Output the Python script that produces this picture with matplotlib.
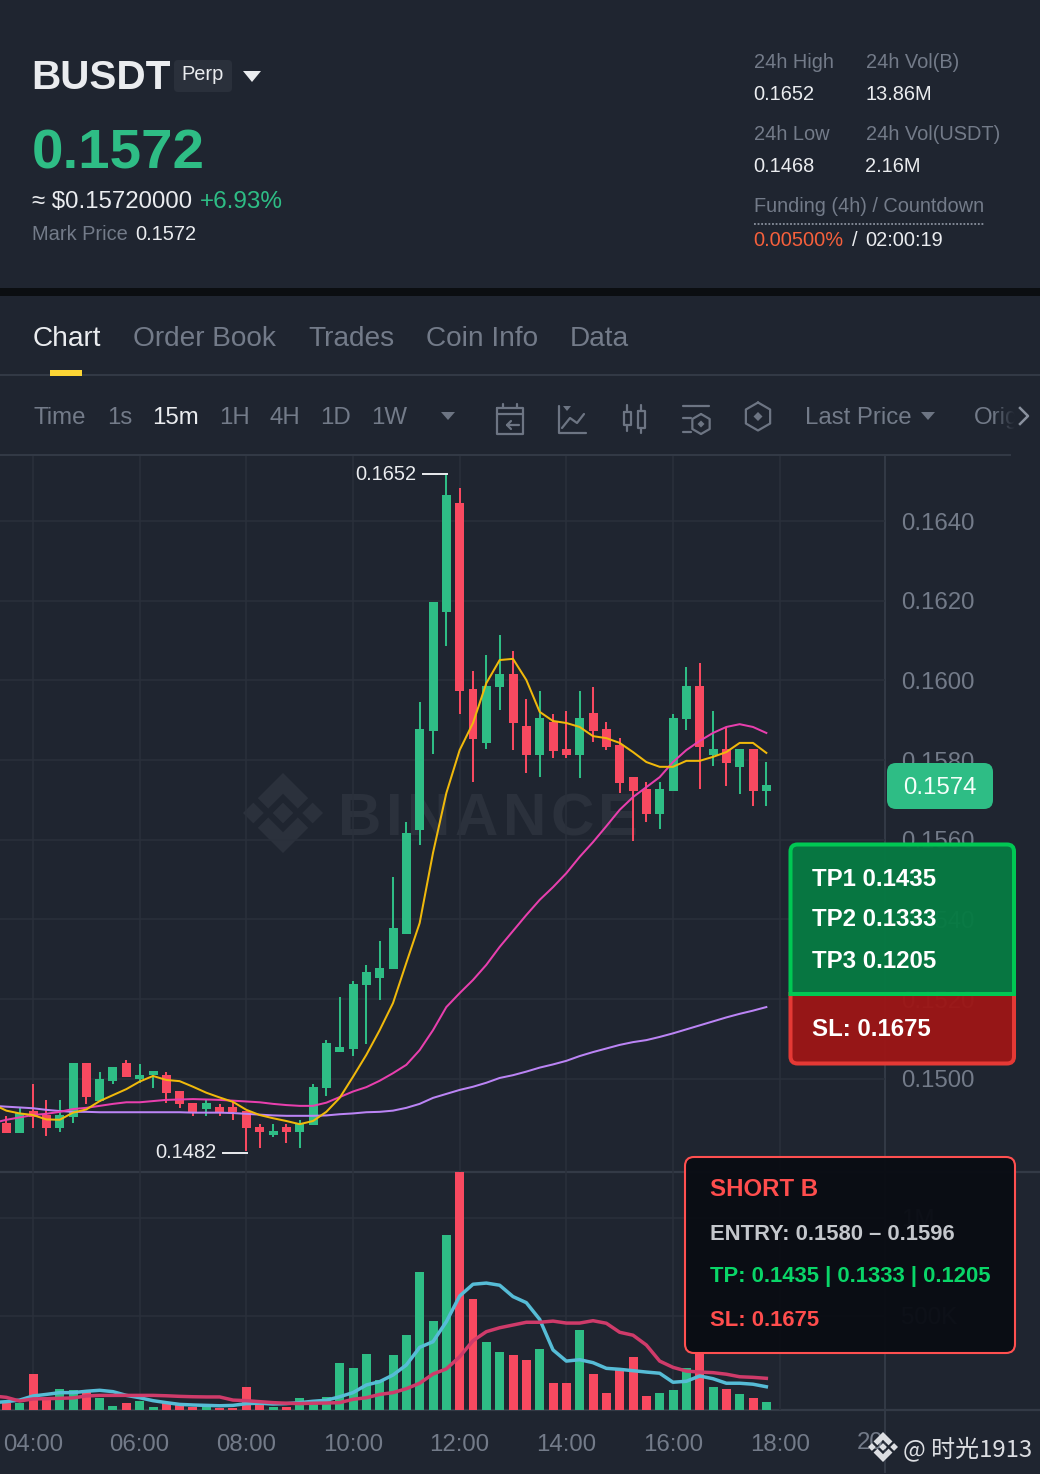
import numpy as np
import matplotlib
matplotlib.use("Agg")
import matplotlib.pyplot as plt
from matplotlib.patches import FancyBboxPatch, PathPatch, Polygon, Rectangle
from matplotlib.path import Path

W, H = 1040, 1474
BG = "#1f2530"
GREEN = "#2ebd85"
RED = "#f84960"
GRID = "#2a303b"
SEP = "#333a46"
GRAY = "#737b89"
LIGHT = "#eaecef"
plt.rcParams["font.family"] = ["Liberation Sans", "DejaVu Sans"]

# ---------- data ----------
candle_index = list(range(-2, 56))
line_index = list(range(-3, 56))
opens = [0.14890,0.14865,0.14919,0.14909,0.14876,0.14905,0.15039,0.14945,0.14995,0.15039,
         0.14999,0.15009,0.15009,0.14969,0.14938,0.14924,0.14930,0.14930,0.14920,0.14880,
         0.14859,0.14880,0.14866,0.14885,0.14976,0.15068,0.15075,0.15235,0.15254,0.15275,
         0.15364,0.15624,0.15873,0.16172,0.16445,0.15978,0.15843,0.15983,0.16016,0.15885,
         0.15813,0.15896,0.15828,0.15813,0.15917,0.15877,0.15838,0.15757,0.15727,0.15664,
         0.15723,0.15903,0.15987,0.15813,0.15827,0.15783,0.15827,0.15723]
closes = [0.14865,0.14915,0.14905,0.14876,0.14909,0.15039,0.14955,0.14999,0.15029,0.15005,
          0.15009,0.15019,0.14965,0.14936,0.14917,0.14938,0.14916,0.14916,0.14876,0.14866,
          0.14870,0.14866,0.14886,0.14980,0.15089,0.15079,0.15238,0.15269,0.15279,0.15378,
          0.15618,0.15878,0.16197,0.16465,0.15973,0.15853,0.15986,0.16016,0.15893,0.15813,
          0.15906,0.15823,0.15813,0.15906,0.15873,0.15833,0.15743,0.15723,0.15664,0.15727,
          0.15906,0.15987,0.15833,0.15827,0.15793,0.15827,0.15723,0.15737]
highs = [0.14907,0.14927,0.14987,0.14947,0.14947,0.15039,0.15039,0.15017,0.15029,0.15047,
         0.15037,0.15019,0.15016,0.14969,0.14938,0.14947,0.14937,0.14942,0.14920,0.14886,
         0.14886,0.14886,0.14897,0.14987,0.15097,0.15206,0.15245,0.15286,0.15345,0.15506,
         0.15644,0.15946,0.16197,0.16520,0.16483,0.16023,0.16064,0.16114,0.16074,0.15953,
         0.15973,0.15916,0.15924,0.15974,0.15984,0.15895,0.15855,0.15757,0.15744,0.15744,
         0.15915,0.16034,0.16043,0.15924,0.15882,0.15827,0.15827,0.15794]
lows = [0.14865,0.14865,0.14877,0.14857,0.14867,0.14889,0.14937,0.14942,0.14987,0.15005,
        0.14989,0.14978,0.14939,0.14927,0.14907,0.14907,0.14907,0.14897,0.14819,0.14827,
        0.14855,0.14839,0.14827,0.14885,0.14958,0.15066,0.15057,0.15087,0.15197,0.15275,
        0.15364,0.15587,0.15815,0.16086,0.15916,0.15745,0.15828,0.15926,0.15825,0.15767,
        0.15757,0.15806,0.15806,0.15756,0.15846,0.15825,0.15717,0.15597,0.15645,0.15626,
        0.15723,0.15875,0.15727,0.15786,0.15736,0.15715,0.15685,0.15685]
ma_yellow = [0.14936,0.14920,0.14913,0.14909,0.14898,0.14897,0.14915,0.14923,0.14944,0.14959,0.14974,
             0.14993,0.15007,0.14997,0.14994,0.14980,0.14965,0.14953,0.14942,0.14922,0.14909,
             0.14901,0.14894,0.14886,0.14894,0.14917,0.14952,0.15005,0.15060,0.15122,0.15190,
             0.15291,0.15391,0.15567,0.15717,0.15825,0.15893,0.15993,0.16051,0.16054,0.16001,
             0.15921,0.15898,0.15893,0.15883,0.15860,0.15855,0.15843,0.15820,0.15795,0.15783,
             0.15783,0.15798,0.15798,0.15808,0.15820,0.15843,0.15843,0.15818]
ma_pink = [0.14889,0.14897,0.14903,0.14909,0.14912,0.14917,0.14924,0.14927,0.14932,0.14937,0.14941,
           0.14941,0.14944,0.14947,0.14948,0.14949,0.14948,0.14947,0.14945,0.14943,0.14941,
           0.14937,0.14934,0.14932,0.14932,0.14940,0.14954,0.14968,0.14979,0.14995,0.15014,
           0.15035,0.15072,0.15122,0.15180,0.15215,0.15248,0.15286,0.15331,0.15371,0.15411,
           0.15449,0.15481,0.15516,0.15557,0.15594,0.15634,0.15675,0.15707,0.15732,0.15757,
           0.15795,0.15825,0.15848,0.15868,0.15883,0.15890,0.15883,0.15868]
ma_purple = [0.14932,0.14930,0.14928,0.14926,0.14922,0.14919,0.14917,0.14917,0.14916,0.14916,0.14916,
             0.14916,0.14916,0.14916,0.14916,0.14915,0.14915,0.14915,0.14914,0.14912,0.14910,
             0.14908,0.14907,0.14907,0.14907,0.14908,0.14911,0.14913,0.14916,0.14917,0.14920,
             0.14927,0.14937,0.14952,0.14962,0.14972,0.14980,0.14990,0.15002,0.15009,0.15018,
             0.15028,0.15036,0.15045,0.15057,0.15067,0.15076,0.15085,0.15092,0.15097,0.15105,
             0.15114,0.15124,0.15134,0.15144,0.15154,0.15163,0.15171,0.15180]
volumes = [55,55,203,71,126,121,114,80,42,58,66,36,55,46,37,34,32,32,136,46,36,36,83,68,87,259,
           233,306,173,299,403,723,476,913,1235,587,367,316,301,276,332,157,157,429,204,109,224,
           291,92,106,122,233,318,136,129,101,82,60]
vol_ma_blue = [58,63,71,92,100,109,109,116,121,114,95,83,68,58,49,46,44,42,44,53,55,51,53,58,65,70,
               88,109,148,165,199,250,340,369,471,602,662,668,657,599,568,483,327,270,277,262,
               233,228,221,214,208,162,167,194,180,157,157,152,139]
vol_ma_red = [92,85,66,77,78,80,82,92,95,95,95,95,95,93,90,88,87,87,71,68,63,58,55,53,55,56,58,75,
              83,100,109,129,157,204,230,292,374,420,440,454,468,468,474,464,464,476,463,417,
              402,352,270,238,219,214,211,203,190,187,182]
price_ticks = [0.1500, 0.1520, 0.1540, 0.1560, 0.1580, 0.1600, 0.1620, 0.1640]
time_ticks = [0, 8, 16, 24, 32, 40, 48, 56]
time_labels = ["04:00", "06:00", "08:00", "10:00", "12:00", "14:00", "16:00", "18:00"]
vol_ticks = [500, 1000]
vol_labels = ["500K", "1M"]
brand_letters = list("BINANCE")
brand_advances = [0.722, 0.278, 0.722, 0.722, 0.722, 0.722, 0.667]

# ---------- layout ----------
PX = 40 / 3        # pixels per candle
X0 = 33            # pixel of index 0
xlim = (-X0 / PX, (885 - X0) / PX)
fig = plt.figure(figsize=(W / 100, H / 100), dpi=100, facecolor=BG)
def px(s): return s * 0.72
def rect_axes(x0, y0, x1, y1, z):
    return fig.add_axes([x0 / W, 1 - y1 / H, (x1 - x0) / W, (y1 - y0) / H], zorder=z)

under = fig.add_axes([0, 0, 1, 1], zorder=0); under.set_xlim(0, W); under.set_ylim(H, 0); under.axis("off")
over = fig.add_axes([0, 0, 1, 1], zorder=10); over.set_xlim(0, W); over.set_ylim(H, 0); over.axis("off")
over.patch.set_alpha(0)

def T(a, x, y, s, size, color=LIGHT, weight="normal", ha="left", va="baseline", **k):
    return a.text(x, y, s, fontsize=px(size), color=color, fontweight=weight, ha=ha, va=va, **k)

# ---------- price pane ----------
ax = rect_axes(0, 456, 885, 1172, 2)
ax.patch.set_alpha(0)
ax.set_xlim(*xlim)
ax.set_ylim(0.16400 - (1172 - 521) * 0.0000251, 0.16400 + (521 - 456) * 0.0000251)
for s in ax.spines.values(): s.set_visible(False)
ax.yaxis.tick_right()
ax.set_yticks(price_ticks); ax.set_yticklabels([f"{v:.4f}" for v in price_ticks])
ax.set_xticks(time_ticks); ax.set_xticklabels([])
ax.tick_params(axis="both", length=0)
ax.tick_params(axis="y", pad=11.5, labelsize=px(24), labelcolor=GRAY)
ax.grid(True, color=GRID, lw=1.1); ax.set_axisbelow(True)
for i, o, c, h, l in zip(candle_index, opens, closes, highs, lows):
    col = GREEN if c >= o else RED
    ax.vlines(i, l, h, color=col, lw=1.45, zorder=3)
    ax.bar(i, abs(c - o), bottom=min(o, c), width=0.675, color=col, zorder=3, lw=0)
ax.plot(line_index, ma_purple, color="#bb84f5", lw=1.45, zorder=4)
ax.plot(line_index, ma_pink, color="#e83fae", lw=1.45, zorder=4)
ax.plot(line_index, ma_yellow, color="#f0b90b", lw=1.45, zorder=4)

# ---------- volume pane ----------
av = rect_axes(0, 1172, 885, 1409.5, 2)
av.patch.set_alpha(0)
av.set_xlim(*xlim)
av.set_ylim((1414 - 1409.5) * 5.102, (1414 - 1172) * 5.102)
for s in av.spines.values(): s.set_visible(False)
av.yaxis.tick_right()
av.set_yticks(vol_ticks); av.set_yticklabels(vol_labels)
av.set_xticks(time_ticks); av.set_xticklabels(time_labels)
av.tick_params(axis="both", length=0)
av.tick_params(axis="y", pad=11.5, labelsize=px(24), labelcolor=GRAY)
av.tick_params(axis="x", pad=17.5, labelsize=px(24), labelcolor=GRAY)
av.grid(True, color=GRID, lw=1.1); av.set_axisbelow(True)
av.bar(candle_index, volumes, width=0.675, lw=0, zorder=3,
       color=[GREEN if c >= o else RED for o, c in zip(opens, closes)])
av.plot(line_index, vol_ma_blue, color="#56bcd6", lw=2.5, zorder=4)
av.plot(line_index, vol_ma_red, color="#cf3b6a", lw=2.5, zorder=4)
av.text(64, -0.1415, "20:00", transform=av.get_xaxis_transform(), ha="center", va="center",
        fontsize=px(24), color=GRAY, clip_on=False, zorder=1)

# ---------- watermark ----------
def logo(a, cx, cy, r, color, z=1):
    d = 0.26
    for dx in (0, -0.74, 0.74):
        a.add_patch(Polygon([(cx + (dx) * r, cy - d * r), (cx + (dx + d) * r, cy),
                             (cx + dx * r, cy + d * r), (cx + (dx - d) * r, cy)], fc=color, ec="none", zorder=z))
    for sgn in (-1, 1):
        pts = [(0, 1), (0.63, 0.37), (0.37, 0.11), (0, 0.48), (-0.37, 0.11), (-0.63, 0.37)]
        a.add_patch(Polygon([(cx + p * r, cy + sgn * q * r) for p, q in pts], fc=color, ec="none", zorder=z))

logo(under, 283, 813, 40, "#2b313c")
cursor = 338
for letter, adv in zip(brand_letters, brand_advances):
    T(under, cursor, 835, letter, 60, color="#2b313c", weight="bold")
    cursor += adv * 60 + 4.5

# ---------- structure lines ----------
under.add_patch(Rectangle((0, 288), W, 8, fc="#0b0e11", ec="none"))
under.plot([0, W], [375, 375], color=SEP, lw=1.4)
under.plot([0, 1010], [455, 455], color=SEP, lw=1.4)
under.plot([0, W], [1172, 1172], color=SEP, lw=1.6)
under.plot([0, W], [1410, 1410], color=SEP, lw=1.6)
under.plot([885, 885], [456, 1472], color=SEP, lw=1.4)

# ---------- header ----------
T(over, 31.5, 88.7, "BUSDT", 40.5, weight="bold")
over.add_patch(FancyBboxPatch((174, 60), 58, 32, boxstyle="round,pad=0,rounding_size=4", fc="#2a303b", ec="none"))
T(over, 181.5, 80, "Perp", 20)
over.add_patch(Polygon([(243, 71), (261, 71), (252, 82)], fc=LIGHT, ec="none"))
T(over, 32, 168.3, "0.1572", 56.5, color=GREEN, weight="bold")
T(over, 32, 207.5, "≈ $0.15720000", 24)
T(over, 200, 207.5, "+6.93%", 24.2, color=GREEN)
T(over, 32, 240, "Mark Price", 20, color=GRAY)
T(over, 135.5, 240, "0.1572", 20)
for x, y, s, c in [(753.5, 68.3, "24h High", GRAY), (865.5, 68.3, "24h Vol(B)", GRAY),
                   (753.5, 100, "0.1652", LIGHT), (865.5, 100, "13.86M", LIGHT),
                   (753.5, 140, "24h Low", GRAY), (865.5, 140, "24h Vol(USDT)", GRAY),
                   (753.5, 171.7, "0.1468", LIGHT), (865.5, 171.7, "2.16M", LIGHT),
                   (753.5, 212, "Funding (4h) / Countdown", GRAY),
                   (753.5, 245.7, "0.00500%", "#f6603c"), (852, 245.7, "/", LIGHT), (865, 245.7, "02:00:19", LIGHT)]:
    T(over, x, y, s, 20, color=c)
over.plot([754, 984], [224.3, 224.3], color="#8a919e", lw=1.3, ls=(0, (1, 1)))

# ---------- tabs ----------
T(over, 32.5, 346, "Chart", 28)
for x, s in [(133, "Order Book"), (308, "Trades"), (426, "Coin Info"), (570, "Data")]:
    T(over, x, 346, s, 28, color=GRAY)
over.add_patch(Rectangle((50, 370), 32, 6, fc="#fcd535", ec="none"))

# ---------- toolbar ----------
for x, s, c in [(34, "Time", GRAY), (107, "1s", GRAY), (152, "15m", LIGHT), (219, "1H", GRAY),
                (269, "4H", GRAY), (320, "1D", GRAY), (371, "1W", GRAY), (805, "Last Price", GRAY)]:
    T(over, x, 424, s, 24, color=c)
T(over, 973.5, 424, "Orig", 24, color=GRAY)
grad = np.zeros((1, 30, 4))
grad[..., 0:3] = matplotlib.colors.to_rgb(BG)
grad[..., 3] = np.clip(np.linspace(0, 1.3, 30), 0, 1)
over.imshow(grad, extent=(992, 1022, 430, 400), aspect="auto", zorder=5)
over.set_xlim(0, W); over.set_ylim(H, 0)
ICON = "#6d7583"
ik = dict(color=ICON, lw=1.6, solid_capstyle="round", solid_joinstyle="round", zorder=6)
over.plot([1020, 1028, 1020], [408, 416, 424], color="#8a919e", lw=1.8, zorder=6)
for x in (448, 928):
    over.add_patch(Polygon([(x - 7, 412), (x + 7, 412), (x, 420)], fc=ICON, ec="none"))
# calendar
over.plot([497, 523, 523, 497, 497], [408, 408, 434, 434, 408], **ik)
over.plot([497, 523], [414, 414], **ik)
over.plot([503, 503], [404, 408], **ik); over.plot([517, 517], [404, 408], **ik)
over.plot([519, 507], [425, 425], **ik); over.plot([511, 507, 511], [421, 425, 429], **ik)
# line chart
over.plot([559, 559, 586], [406, 433, 433], **ik)
over.plot([562, 570, 577, 584], [428, 418, 423, 414], **ik)
over.add_patch(Polygon([(563, 406), (571, 406), (567, 411)], fc=ICON, ec="none"))
# candles
for x, a, b, c, d in [(627, 405, 412, 425, 431), (641, 405, 411, 428, 433)]:
    over.plot([x, x], [a, b], **ik); over.plot([x, x], [c, d], **ik)
    over.plot([x - 3.5, x + 3.5, x + 3.5, x - 3.5, x - 3.5], [b, b, c, c, b], **ik)
# settings list
over.plot([683, 709], [406, 406], **ik)
over.plot([683, 691], [418, 418], **ik); over.plot([683, 691], [432, 432], **ik)
def hexagon(cx, cy, r, inner):
    ang = np.deg2rad(np.arange(-90, 271, 60))
    over.plot(cx + r * np.cos(ang), cy + r * np.sin(ang), **ik)
    over.add_patch(Polygon([(cx, cy - inner), (cx + inner, cy), (cx, cy + inner), (cx - inner, cy)], fc=ICON, ec="none"))
hexagon(701, 424, 10, 3.5)
hexagon(758, 416.5, 14, 4.5)

# ---------- extreme labels ----------
T(over, 416.5, 474, "0.1652", 20, ha="right", va="center")
over.plot([423, 447], [473.5, 473.5], color=LIGHT, lw=1.4)
T(over, 216.5, 1153, "0.1482", 20, ha="right", va="center")
over.plot([223, 247], [1153, 1153], color=LIGHT, lw=1.4)

# ---------- current price tag ----------
over.add_patch(FancyBboxPatch((887, 763), 106, 46, boxstyle="round,pad=0,rounding_size=9", fc=GREEN, ec="none"))
T(over, 940, 788, "0.1574", 24, color="#f4fff9", ha="center", va="center")

# ---------- TP / SL card ----------
def half_round(x0, y0, x1, y1, r, top):
    C3, L2, M = Path.CURVE3, Path.LINETO, Path.MOVETO
    if top:
        v = [(x0, y1), (x0, y0 + r), (x0, y0), (x0 + r, y0), (x1 - r, y0), (x1, y0), (x1, y0 + r), (x1, y1), (x0, y1)]
    else:
        v = [(x0, y0), (x0, y1 - r), (x0, y1), (x0 + r, y1), (x1 - r, y1), (x1, y1), (x1, y1 - r), (x1, y0), (x0, y0)]
    return Path(v, [M, L2, C3, C3, L2, C3, C3, L2, Path.CLOSEPOLY])
over.add_patch(PathPatch(half_round(790.5, 994, 1014, 1063.5, 7, False), fc=(0.612, 0.086, 0.086, 0.96), ec="#e53935", lw=2.9))
over.add_patch(PathPatch(half_round(790.5, 844.5, 1014, 994, 7, True), fc=(0.024, 0.478, 0.259, 0.96), ec="#00c853", lw=2.9))
for y, s in [(886, "TP1 0.1435"), (926, "TP2 0.1333"), (967.7, "TP3 0.1205"), (1036, "SL: 0.1675")]:
    T(over, 812, y, s, 24, color="white", weight="bold")

# ---------- signal card ----------
over.add_patch(FancyBboxPatch((685, 1157), 330, 196, boxstyle="round,pad=0,rounding_size=9",
                              fc=(0.039, 0.051, 0.078, 0.97), ec="#ff5050", lw=1.5))
T(over, 710, 1196, "SHORT B", 24, color="#ff4d4d", weight="bold")
T(over, 710, 1240, "ENTRY: 0.1580 – 0.1596", 22, color="#c4c7cc", weight="bold")
T(over, 710, 1281.7, "TP: 0.1435 | 0.1333 | 0.1205", 22, color="#09d668", weight="bold")
T(over, 710, 1325.7, "SL: 0.1675", 22, color="#ff4d4d", weight="bold")

# ---------- source mark ----------
over.add_patch(Rectangle((886, 1426), 154, 44, fc=BG, ec="none", zorder=7))
logo(over, 883, 1447, 15, "#dcdee2", z=8)
T(over, 903, 1456, "@ 时光1913", 24, color="#dcdee2", zorder=8,
  family=["Noto Sans CJK SC", "DejaVu Sans"])

fig.savefig("out.png", dpi=100, facecolor=BG)
